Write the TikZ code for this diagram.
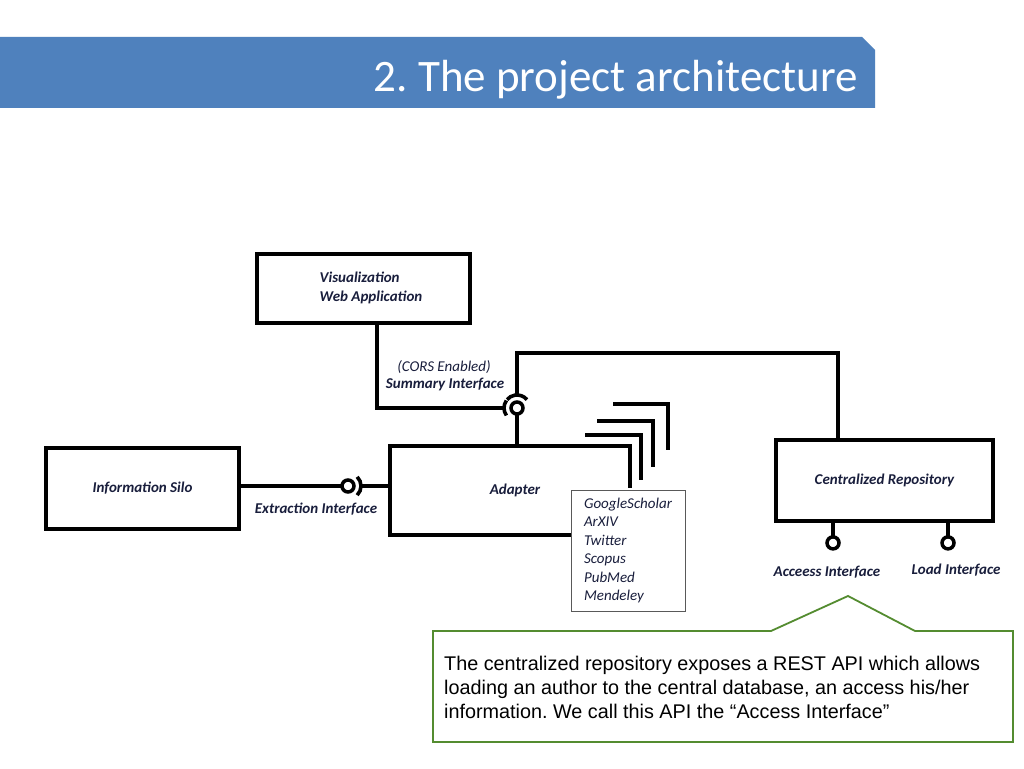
\documentclass[tikz,border=0pt]{standalone}
\usepackage{fontspec}
\setmainfont{Carlito}
\newfontfamily\notefont{Liberation Sans}
\usetikzlibrary{positioning,calc}
\frenchspacing
\definecolor{barblue}{RGB}{79,129,189}
\definecolor{lblcolor}{RGB}{25,30,60}
\definecolor{notegreen}{RGB}{84,140,48}
\tikzset{
  compbox/.style={draw, line width=3.8pt, fill=white, inner sep=0pt,
    font=\bfseries\itshape\fontsize{15}{18}\selectfont, text=lblcolor},
  listbox/.style={draw=gray!70!black, line width=0.9pt, fill=white, align=left,
    inner sep=0pt, font=\itshape\fontsize{15}{18.4}\selectfont, text=lblcolor},
  wire/.style={line width=3.8pt, line join=miter},
  ball/.style={line width=3.5pt, fill=white},
  cup/.style={line width=3.6pt},
  lbl/.style={font=\bfseries\itshape\fontsize{15}{18}\selectfont, text=lblcolor, inner sep=0pt},
  lbli/.style={font=\itshape\fontsize{15}{18}\selectfont, text=lblcolor, inner sep=0pt},
}

\begin{document}
\begin{tikzpicture}[x=1pt, y=1pt]
    \useasboundingbox (0,0) rectangle (1024,768);
    \fill[white] (0,0) rectangle (1024,768);
    % title bar
    \fill[barblue] (0,731) -- (862,731) -- (875,718) -- (875,660) -- (0,660) -- cycle;
    \node[anchor=base east, text=white, font=\fontsize{45}{54}\selectfont, inner sep=0pt] (title) at (858,676) {2. The project architecture};
    % components
    \node[compbox, minimum width=213pt, minimum height=69pt] (viz) at (363.5,479.5) {};
    \node[lbl, align=left] (vizlbl) at (371,480.5) {Visualization\\[1pt]Web Application};
    \node[compbox, minimum width=193pt, minimum height=81pt] (silo) at (142.5,279.5) {Information Silo};
    \node[compbox, minimum width=217pt, minimum height=81pt] (repo) at (884.5,287.5) {Centralized Repository};
    \node[lbl, minimum width=240pt, minimum height=89pt] (adapter) at (510,277.5) {\hspace*{10pt}Adapter};
    \draw[wire] ($(adapter.north east)+(0,-42)$) -- (adapter.north east) -- (adapter.north west)
      -- (adapter.south west) -- ($(adapter.south west)+(181,0)$);
    % stacked adapters
    \foreach \xa/\xb/\ya/\yb in {585/641/333/288, 597/653/347/301, 613/668/364/318}
      \draw[wire] (\xa,\ya) -| (\xb,\yb);
    \node[listbox, minimum width=114pt, minimum height=121pt] (src) at (628,217.5)
      {GoogleScholar\\ArXIV\\Twitter\\Scopus\\PubMed\\Mendeley};
    % summary interface
    \coordinate (sumball) at (517,360);
    \draw[wire] (sumball |- adapter.north) -- ($(sumball)+(0,-6)$);
    \draw[ball] (sumball) circle (6pt);
    \draw[wire] ([xshift=13.5pt]viz.south) |- ($(sumball)+(-13,0)$);
    \draw[cup] ($(sumball)+(145:13pt)$) arc[start angle=145, end angle=215, radius=13pt];
    \draw[wire] ([xshift=-46.5pt]repo.north) |- (517,415) -- ($(sumball)+(0,13)$);
    \draw[cup] ($(sumball)+(40:13pt)$) arc[start angle=40, end angle=140, radius=13pt];
    % extraction interface
    \coordinate (extball) at (348,282);
    \draw[wire] (silo.east |- extball) -- ($(extball)+(-6,0)$);
    \draw[ball] (extball) circle (6pt);
    \draw[cup] ($(extball)+(-45:13pt)$) arc[start angle=-45, end angle=45, radius=13pt];
    \draw[wire] ($(extball)+(13,0)$) -- (adapter.west |- extball);
    % repository interfaces
    \foreach \xo in {-51.5,63.5} {
      \draw[wire] ([xshift=\xo pt]repo.south) -- ++(0,-14);
      \draw[ball] ([xshift=\xo pt, yshift=-20pt]repo.south) circle (6pt);
    }
    % labels
    \node[lbli] (cors) at (444,401) {(CORS Enabled)};
    \node[lbl] (sumif) at (445,384) {Summary Interface};
    \node[lbl] (extif) at (316,259) {Extraction Interface};
    \node[lbl] (accif) at (827,196) {Acceess Interface};
    \node[lbl] (loadif) at (956,198) {Load Interface};
    % callout
    \draw[notegreen, line width=1.8pt, fill=white] (433,137) -- (771,137) -- (848,172) -- (915,137)
      -- (1013,137) -- (1013,26) -- (433,26) -- cycle;
    \node[anchor=north west, align=left, inner sep=0pt, font=\notefont\fontsize{19.8}{24}\selectfont] (notetext) at (444,112)
      {The centralized repository exposes a REST API which allows\\loading an author to the central database, an access his/her\\information. We call this API the “Access Interface”};
  \end{tikzpicture}
\end{document}
